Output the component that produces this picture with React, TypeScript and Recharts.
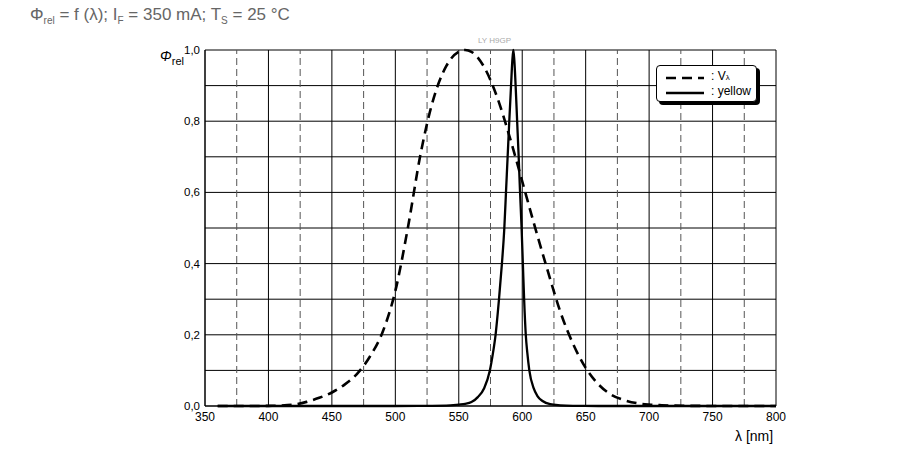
import React from 'react';
import { LineChart, Line, XAxis, YAxis, CartesianGrid, ReferenceLine } from 'recharts';

// relative luminous sensitivity V(lambda)
const vWavelengths = [
  360, 370, 380, 390, 400, 410, 420, 430, 440, 450, 460, 470, 480, 490, 500, 510, 520, 530, 540, 550, 555,
  560, 570, 580, 590, 600, 610, 620, 630, 640, 650, 660, 670, 680, 690, 700, 710, 720, 730, 740, 750,
  760, 770, 780, 790, 800,
];
const vValues = [
  0.000004, 0.000012, 0.000039, 0.00012, 0.0004, 0.0012, 0.004, 0.0116, 0.023, 0.038, 0.06, 0.091, 0.139,
  0.208, 0.323, 0.503, 0.71, 0.862, 0.954, 0.995, 1.0, 0.995, 0.952, 0.87, 0.757, 0.631, 0.503, 0.381,
  0.265, 0.175, 0.107, 0.061, 0.032, 0.017, 0.0082, 0.0041, 0.0021, 0.001, 0.0005, 0.00025, 0.00012,
  0.00006, 0.00003, 0.000015, 0.000007, 0.000003,
];

// LY H9GP yellow emission spectrum
const yellowWavelengths = [
  360, 500, 520, 540, 550, 555, 560, 565, 570, 574.5, 577, 579, 581.7, 584, 585.9, 587.2, 588.5, 589.8,
  591.2, 592.2, 593, 593.8, 594.8, 596, 597.2, 598.3, 599.5, 600.5, 601.5, 602.8, 604, 605.6, 609, 612,
  616, 622, 630, 640, 660, 800,
];
const yellowValues = [
  0, 0, 0.0003, 0.001, 0.004, 0.006, 0.011, 0.025, 0.05, 0.1, 0.15, 0.2, 0.3, 0.4, 0.5, 0.6, 0.7, 0.8,
  0.9, 0.97, 1.0, 0.97, 0.9, 0.8, 0.7, 0.6, 0.5, 0.4, 0.3, 0.2, 0.15, 0.1, 0.05, 0.028, 0.014, 0.005,
  0.002, 0.0005, 0, 0,
];

const xTicks = [350, 400, 450, 500, 550, 600, 650, 700, 750, 800];
const xDashed = [375, 425, 475, 525, 575, 625, 675, 725, 775];
const yTicks = [0, 0.2, 0.4, 0.6, 0.8, 1.0];
const yGrid = [0.1, 0.2, 0.3, 0.4, 0.5, 0.6, 0.7, 0.8, 0.9, 1.0];

const vData = vWavelengths.map((x, i) => ({ x, y: vValues[i] }));
const yellowData = yellowWavelengths.map((x, i) => ({ x, y: yellowValues[i] }));

const font = '"Liberation Sans", Arial, Helvetica, sans-serif';

export default function App() {
  return (
    <div style={{ position: 'absolute', left: 0, top: 0, width: 906, height: 465, fontFamily: font, background: '#fff' }}>
      <div style={{ position: 'absolute', left: 30, top: 5, fontSize: 17, color: '#666', whiteSpace: 'nowrap' }}>
        Φ<sub style={{ fontSize: 10 }}>rel</sub> = f (λ); I<sub style={{ fontSize: 10 }}>F</sub> = 350 mA; T
        <sub style={{ fontSize: 10 }}>S</sub> = 25 °C
      </div>

      <LineChart width={906} height={465} margin={{ top: 50, right: 130, bottom: 29, left: 155 }}>
        <CartesianGrid
          stroke="#000"
          strokeWidth={1}
          horizontalValues={yGrid}
          verticalValues={xTicks.slice(1)}
        />
        {xDashed.map(x => (
          <ReferenceLine key={x} x={x} stroke="#555" strokeDasharray="7 4" />
        ))}
        <XAxis
          type="number"
          dataKey="x"
          domain={[350, 800]}
          ticks={xTicks}
          allowDataOverflow
          tickLine={false}
          tickSize={0}
          tickMargin={6}
          height={30}
          axisLine={{ stroke: '#000', strokeWidth: 1.5 }}
          tick={{ fill: '#000', fontSize: 12 }}
        />
        <YAxis
          type="number"
          domain={[0, 1]}
          ticks={yTicks}
          tickFormatter={v => v.toFixed(1).replace('.', ',')}
          tickLine={false}
          tickSize={0}
          tickMargin={5}
          width={50}
          axisLine={{ stroke: '#000', strokeWidth: 1.5 }}
          tick={{ fill: '#000', fontSize: 11.5 }}
        />
        <Line
          data={vData}
          dataKey="y"
          type="monotone"
          stroke="#000"
          strokeWidth={2.6}
          strokeDasharray="10 6"
          dot={false}
          isAnimationActive={false}
        />
        <Line
          data={yellowData}
          dataKey="y"
          type="monotone"
          stroke="#000"
          strokeWidth={2.3}
          dot={false}
          isAnimationActive={false}
        />
      </LineChart>

      <div style={{ position: 'absolute', left: 478, top: 36, fontSize: 8, color: '#aaa' }}>LY H9GP</div>

      <div style={{ position: 'absolute', left: 160, top: 48, fontSize: 14, whiteSpace: 'nowrap' }}>
        <i>Φ</i>
        <sub style={{ fontSize: 11 }}>rel</sub>
      </div>

      <div style={{ position: 'absolute', left: 735, top: 428, fontSize: 14, whiteSpace: 'nowrap' }}>λ [nm]</div>

      {/* legend box with drop shadow */}
      <div
        style={{
          position: 'absolute',
          left: 659,
          top: 68,
          width: 101,
          height: 37,
          background: '#000',
          borderRadius: 4,
        }}
      />
      <div
        style={{
          position: 'absolute',
          left: 656,
          top: 65,
          width: 99,
          height: 35,
          background: '#fff',
          border: '1.5px solid #000',
          borderRadius: 4,
          fontSize: 12,
        }}
      >
        <svg width={40} height={30} style={{ position: 'absolute', left: 9, top: 3 }}>
          <line x1={0} y1={9} x2={38} y2={9} stroke="#000" strokeWidth={2.6} strokeDasharray="10 6" />
          <line x1={0} y1={24} x2={38} y2={24} stroke="#000" strokeWidth={2.3} />
        </svg>
        <div style={{ position: 'absolute', left: 54, top: 3 }}>
          : V<span style={{ fontSize: 8 }}>λ</span>
        </div>
        <div style={{ position: 'absolute', left: 54, top: 18 }}>: yellow</div>
      </div>
    </div>
  );
}
